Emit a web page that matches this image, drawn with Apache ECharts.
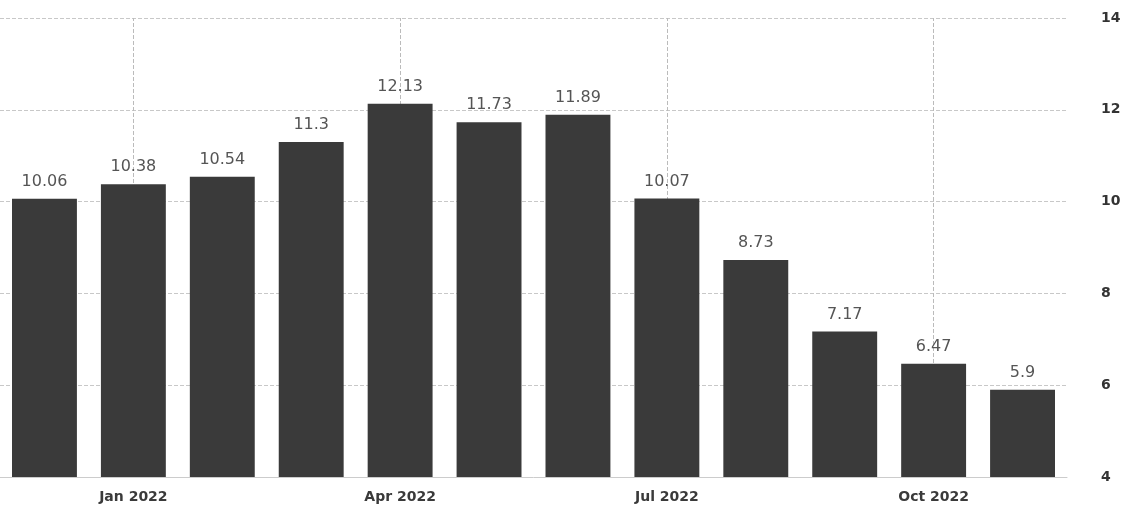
<!DOCTYPE html>
<html><head><meta charset="utf-8">
<script src="https://cdn.jsdelivr.net/npm/echarts@6/dist/echarts.min.js"></script>
<style>html,body{margin:0;padding:0;background:#fff}#c{width:1130px;height:517px}</style>
</head><body><div id="c"></div>
<script>
const categories = ['Dec 2021','Jan 2022','Feb 2022','Mar 2022','Apr 2022','May 2022','Jun 2022','Jul 2022','Aug 2022','Sep 2022','Oct 2022','Nov 2022'];
const values = [10.06, 10.38, 10.54, 11.3, 12.13, 11.73, 11.89, 10.07, 8.73, 7.17, 6.47, 5.9];
const labelledMonths = ['Jan 2022','Apr 2022','Jul 2022','Oct 2022'];
const yMin = 4, yMax = 14, yStep = 2;

const chart = echarts.init(document.getElementById('c'));
chart.setOption({
  animation: false,
  backgroundColor: '#fff',
  grid: {left: -2, right: 63, top: 18, bottom: 40},
  xAxis: {
    type: 'category',
    data: categories,
    axisLine: {show: true, lineStyle: {color: '#ccc'}},
    axisTick: {show: false},
    splitLine: {show: false},
    axisLabel: {
      interval: (i, v) => labelledMonths.includes(v),
      color: '#3a3a3a', fontSize: 14, fontWeight: 'bold', fontFamily: 'DejaVu Sans', margin: 13
    }
  },
  yAxis: {
    type: 'value', position: 'right', min: yMin, max: yMax, interval: yStep,
    axisLine: {show: false}, axisTick: {show: false},
    axisLabel: {color: '#333', fontSize: 14, fontWeight: 'bold', fontFamily: 'DejaVu Sans', margin: 34},
    splitLine: {lineStyle: {color: '#c8c8c8', type: 'dashed'}}
  },
  series: [{
    type: 'bar',
    data: values,
    barCategoryGap: '27%',
    itemStyle: {color: '#3a3a3a'},
    label: {show: true, position: 'top', color: '#555', fontSize: 16, fontFamily: 'DejaVu Sans', distance: 9},
    z: 3
  }, {
    type: 'line',
    data: [],
    silent: true,
    z: 0,
    markLine: {
      z: 0,
      silent: true, symbol: 'none', label: {show: false},
      lineStyle: {color: '#bbb', type: 'dashed', width: 1},
      data: labelledMonths.map(m => ({xAxis: m}))
    }
  }]
});
</script></body></html>
